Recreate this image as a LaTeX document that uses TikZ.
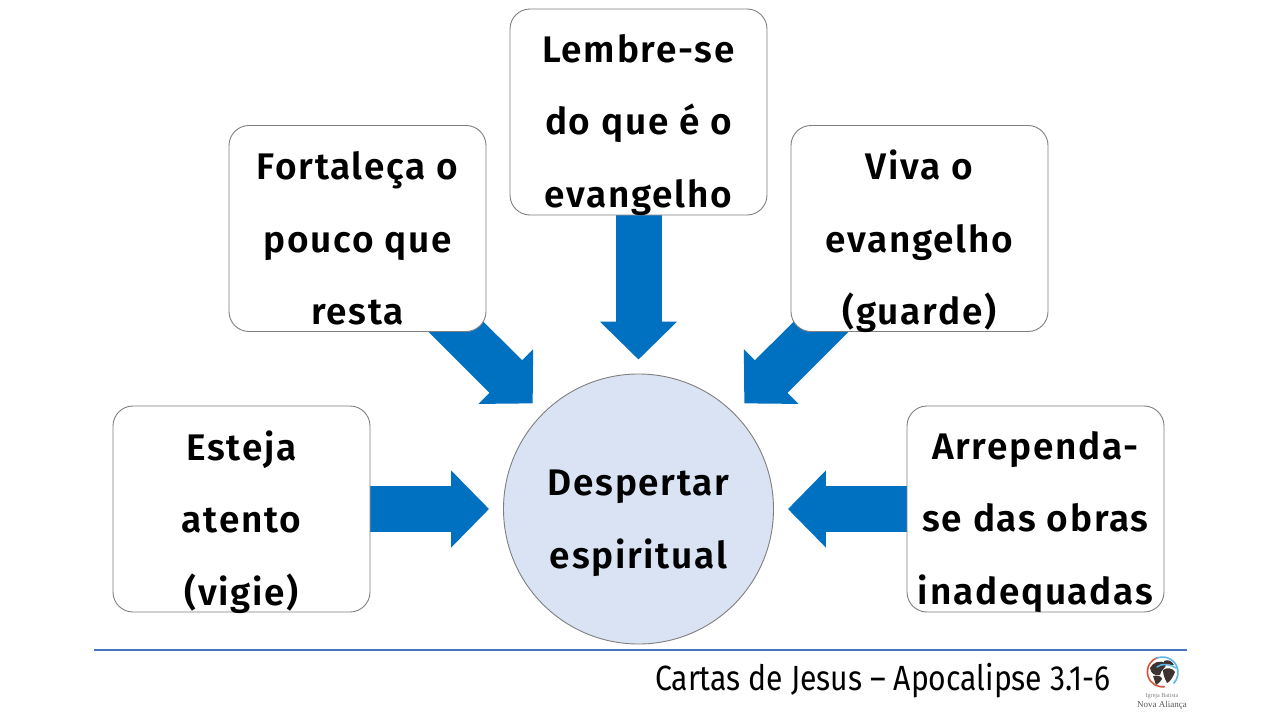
\documentclass[tikz,border=0pt]{standalone}
\usepackage{fontspec}
\setmainfont{Fira Sans}
\newfontfamily\bodyf[LetterSpace=4.6,UprightFont=* SemiBold]{Fira Sans}
\newfontfamily\footf[FakeStretch=0.86]{Fira Sans}
\newfontfamily\logof{Liberation Serif}
\usetikzlibrary{arrows.meta,backgrounds}
\definecolor{arrowblue}{HTML}{0070C0}
\definecolor{circfill}{HTML}{DAE3F3}
\definecolor{rulecol}{HTML}{4472C4}
\definecolor{edgegray}{HTML}{7F7F7F}
\definecolor{globebrown}{HTML}{3D3330}
\definecolor{globered}{HTML}{D9553A}
\definecolor{globeblue}{HTML}{5CB8E6}
\tikzset{
  card/.style={draw=edgegray,line width=0.9pt,fill=white,rounded corners=20pt,minimum width=257pt,minimum height=206pt,inner sep=0pt},
  cardtext/.style={font=\bodyf\fontsize{37}{72.5}\selectfont,align=center,text=black,inner sep=0pt},
  blockarrow/.style={draw=arrowblue,line width=46pt,-{Triangle[length=38pt,width=75pt]},shorten >=14pt},
}
\begin{document}
\begin{tikzpicture}[x=1pt,y=-1pt]
\useasboundingbox (0,0) rectangle (1280,720);
\node[card] (lembre) at (638.5,112) {};
\node[card] (fortaleca) at (357.5,228.5) {};
\node[card] (viva) at (919.5,228.5) {};
\node[card] (esteja) at (241.5,509) {};
\node[card] (arrep) at (1035.5,509) {};
\node[circle,draw=edgegray,line width=0.9pt,fill=circfill,minimum size=270pt,inner sep=0pt] (centro) at (638.5,509) {};
\begin{scope}[on background layer]
  \fill[white] (0,0) rectangle (1280,720);
  \draw[blockarrow] (lembre.center) -- (centro);
  \draw[blockarrow] (fortaleca.center) -- (centro);
  \draw[blockarrow] (viva.center) -- (centro);
  \draw[blockarrow] (esteja.center) -- (centro);
  \draw[blockarrow] (arrep.center) -- (centro);
\end{scope}
\node[cardtext] (t1) at (638.5,125) {Lembre-se\\do que é o\\evangelho};
\node[cardtext] (t2) at (357.5,238.5) {Fortaleça o\\pouco que\\resta};
\node[cardtext] (t3) at (919.5,241.5) {Viva o\\evangelho\\(guarde)};
\node[cardtext] (t4) at (241.5,522) {Esteja\\atento\\(vigie)};
\node[cardtext] (t5) at (1035.5,522) {Arrependa-\\se das obras\\inadequadas};
\node[cardtext] (t6) at (638.5,523.5) {Despertar\\espiritual};
\draw[rulecol,line width=1.6pt] (94,650) -- (1187,650);
\node[font=\footf\fontsize{35}{38}\selectfont,anchor=base east,inner sep=0pt] (foot) at (1111,690) {Cartas de Jesus – Apocalipse 3.1-6};
% logo
\begin{scope}
  \fill[globebrown] (1150,668) .. controls (1153,662) and (1160,660) .. (1166,663) .. controls (1167,668) and (1160,670) .. (1160,675) .. controls (1155,676) and (1151,674) .. (1150,668) -- cycle;
  \fill[globebrown] (1153,676) .. controls (1157,675) and (1162,676) .. (1162,679) .. controls (1160,682) and (1158,684) .. (1156,685) .. controls (1155,682) and (1154,679) .. (1153,676) -- cycle;
  \fill[globebrown] (1163,670) .. controls (1167,667) and (1173,668) .. (1175,672) .. controls (1173,677) and (1170,682) .. (1167,683) .. controls (1165,679) and (1163,675) .. (1163,670) -- cycle;
  \fill[globebrown] (1164,661) .. controls (1168,659) and (1172,661) .. (1174,665) .. controls (1170,665) and (1167,664) .. (1164,664) -- cycle;
  \draw[globeblue,line width=1.5pt,line cap=round] (1157,667) .. controls (1162,663) and (1170,664) .. (1176,668);
  \draw[globered,line width=1.6pt] (1158,657.5) arc[start angle=-107,end angle=-280,radius=15];
  \draw[globeblue,line width=1.6pt] (1156,658.5) arc[start angle=-115,end angle=45,radius=15.5];
\end{scope}
\node[font=\logof\fontsize{6.1}{7}\selectfont,text=gray,inner sep=0pt] (logo1) at (1162,696.5) {Igreja Batista};
\node[font=\logof\fontsize{9}{11}\selectfont,text=black!65,inner sep=0pt] (logo2) at (1162,705.5) {Nova Aliança};
\end{tikzpicture}
\end{document}
